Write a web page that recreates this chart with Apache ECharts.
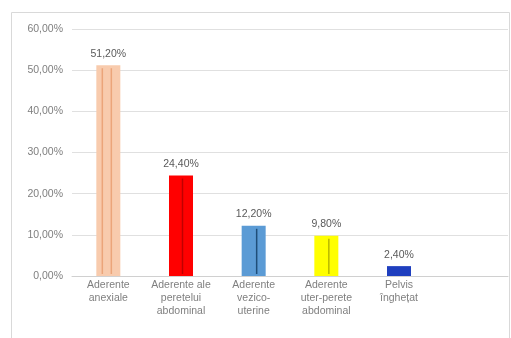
<!DOCTYPE html>
<html>
<head>
<meta charset="utf-8">
<script src="https://cdn.jsdelivr.net/npm/echarts@6/dist/echarts.min.js"></script>
<style>
  html, body { margin: 0; padding: 0; background: #fff; }
  #chart { width: 511px; height: 338px; }
</style>
</head>
<body>
<div id="chart"></div>
<script>
// Categories (the sixth slot is left empty, as in the original layout)
var categories = [
  'Aderente\nanexiale',
  'Aderente ale\nperetelui\nabdominal',
  'Aderente\nvezico-\nuterine',
  'Aderente\nuter-perete\nabdominal',
  'Pelvis\nînghețat',
  ''
];
// Percentages
var values = [51.2, 24.4, 12.2, 9.8, 2.4, null];
// Y-axis range
var yMin = 0, yMax = 60, yStep = 10;

var barColors = ['#f8cbad', '#ff0000', '#5b9bd5', '#ffff00', '#1f3fbf'];
var streakColors = ['#eba57a', '#c00000', '#1f4e79', '#b8b800', '#1f3fbf'];
// horizontal offsets (px from bar centre) of the darker streaks inside each bar
var streakOffsets = [[-6, 3], [1.5], [3], [2.5], []];

function pct(v) { return v.toFixed(2).replace('.', ',') + '%'; }

var chart = echarts.init(document.getElementById('chart'));
chart.setOption({
  animation: false,
  textStyle: { fontFamily: 'Liberation Sans, Arial, sans-serif' },
  grid: { left: 72, right: 3, top: 29, bottom: 62 },
  graphic: [{
    type: 'rect',
    shape: { x: 11.5, y: 12.5, width: 498, height: 340 },
    style: { fill: 'none', stroke: '#d9d9d9', lineWidth: 1 },
    silent: true
  }],
  xAxis: {
    type: 'category',
    data: categories,
    axisTick: { show: false },
    axisLine: { lineStyle: { color: '#d0d0d0' } },
    axisLabel: {
      interval: 0,
      color: '#7f7f7f',
      fontSize: 10.5,
      lineHeight: 13,
      margin: 3
    }
  },
  yAxis: {
    type: 'value',
    min: yMin, max: yMax, interval: yStep,
    axisLine: { show: false },
    axisTick: { show: false },
    splitLine: { lineStyle: { color: '#e0e0e0' } },
    axisLabel: {
      color: '#7f7f7f',
      fontSize: 10.5,
      margin: 9,
      formatter: function (v) { return pct(v); }
    }
  },
  series: [{
    type: 'bar',
    barWidth: 24,
    data: values.map(function (v, i) {
      return { value: v, itemStyle: { color: barColors[i] } };
    }),
    label: {
      show: true,
      position: 'top',
      distance: 6,
      color: '#595959',
      fontSize: 10.5,
      formatter: function (p) { return pct(p.value); }
    }
  }, {
    type: 'custom',
    silent: true,
    z: 3,
    data: values.map(function (v, i) { return [i, v]; }),
    renderItem: function (params, api) {
      var i = api.value(0), v = api.value(1);
      if (v == null || isNaN(v)) return null;
      var top = api.coord([i, v]);
      var bottom = api.coord([i, 0]);
      var offs = streakOffsets[i] || [];
      var children = offs.map(function (dx) {
        return {
          type: 'line',
          shape: { x1: top[0] + dx, y1: top[1] + 3, x2: top[0] + dx, y2: bottom[1] - 2 },
          style: { stroke: streakColors[i], lineWidth: 1.5 }
        };
      });
      return { type: 'group', children: children };
    }
  }]
});
</script>
</body>
</html>
